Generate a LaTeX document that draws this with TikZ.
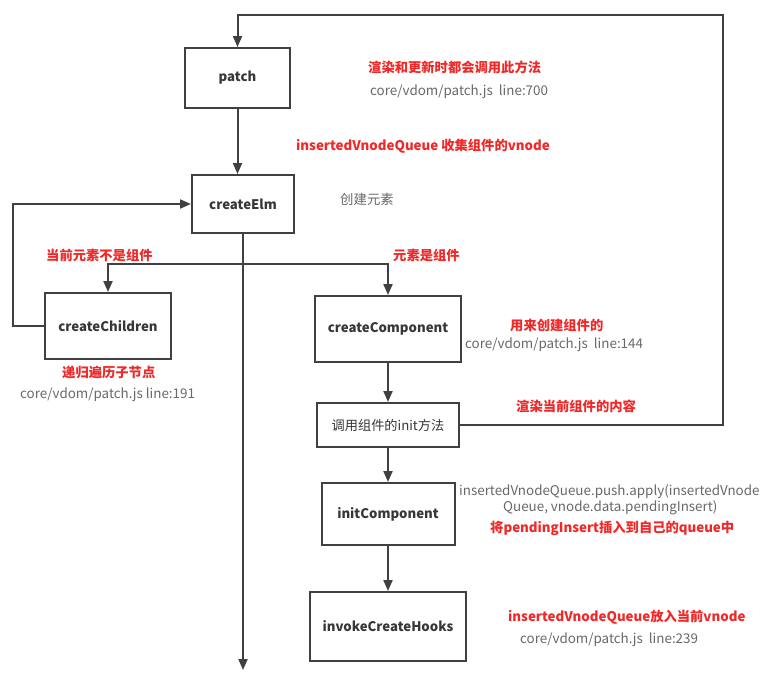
\documentclass[tikz,border=0pt]{standalone}
\usepackage{fontspec}
\setmainfont{Noto Sans CJK SC}
\usetikzlibrary{arrows.meta}
\definecolor{ln}{RGB}{64,64,64}
\definecolor{redt}{RGB}{240,40,40}
\definecolor{grayt}{RGB}{105,105,105}
\definecolor{boxt}{RGB}{55,55,55}
\tikzset{
  box/.style={draw=ln,line width=2pt,fill=white,font=\fontsize{13.2}{15}\selectfont\bfseries,text=boxt,inner sep=0pt},
  arr/.style={draw=ln,line width=2pt,-{Triangle[length=11pt,width=9pt]}},
  rtxt/.style={font=\fontsize{13.3}{15}\selectfont\bfseries,text=redt,anchor=west,inner sep=0pt},
  gtxt/.style={font=\fontsize{13.4}{15}\selectfont,text=grayt,anchor=west,inner sep=0pt},
}
\begin{document}
\begin{tikzpicture}[x=1pt,y=-1pt]
\useasboundingbox[fill=white] (0,0) rectangle (768,673);
% boxes
\node[box,minimum width=105pt,minimum height=60pt] (patch) at (237.5,78) {patch};
\node[box,minimum width=102pt,minimum height=58pt] (ce) at (243,204) {createElm};
\node[box,minimum width=126pt,minimum height=66pt] (cc) at (108,326) {createChildren};
\node[box,minimum width=146pt,minimum height=66pt] (comp) at (388,329) {createComponent};
\node[box,minimum width=142pt,minimum height=44pt,font=\fontsize{13.2}{15}\selectfont\mdseries] (init) at (388,425) {调用组件的init方法};
\node[box,minimum width=133pt,minimum height=62pt] (ic) at (388,514) {initComponent};
\node[box,minimum width=156pt,minimum height=69pt] (ich) at (388,626.5) {invokeCreateHooks};
% coordinates
\coordinate (tr) at (723,15);
\coordinate (br) at (243,264);
\coordinate (bot) at (243,670);
\coordinate (lft) at (13,326);
% connectors
\draw[arr] (init.east) -| (tr) -| (patch.north);
\draw[arr] (patch.south) -- (patch.south |- ce.north);
\draw[arr] (ce.south) -- (bot);
\draw[arr] (br) -| (cc.north);
\draw[arr] (br) -| (comp.north);
\draw[arr] (cc.west) -- (lft) |- (ce.west);
\draw[arr] (comp.south) -- (init.north);
\draw[arr] (init.south) -- (ic.north);
\draw[arr] (ic.south) -- (ich.north);
% texts
\node[rtxt] (t1) at (368,67) {渲染和更新时都会调用此方法};
\node[gtxt] (t2) at (370,92) {core/vdom/patch.js\ \ line:700};
\node[rtxt] (t3) at (296,146) {insertedVnodeQueue 收集组件的vnode};
\node[gtxt] (t4) at (340,199) {创建元素};
\node[rtxt] (t5) at (46,255) {当前元素不是组件};
\node[rtxt] (t6) at (393,255) {元素是组件};
\node[rtxt] (t7) at (62,372) {递归遍历子节点};
\node[gtxt] (t8) at (20,395) {core/vdom/patch.js line:191};
\node[rtxt] (t9) at (510,325) {用来创建组件的};
\node[gtxt] (t10) at (465,345) {core/vdom/patch.js\ \ line:144};
\node[rtxt] (t11) at (516,406) {渲染当前组件的内容};
\node[gtxt] (t12) at (459,492) {insertedVnodeQueue.push.apply(insertedVnode};
\node[gtxt] (t13) at (503,508) {Queue, vnode.data.pendingInsert)};
\node[rtxt] (t14) at (490,528) {将pendingInsert插入到自己的queue中};
\node[rtxt] (t15) at (508,617) {insertedVnodeQueue放入当前vnode};
\node[gtxt] (t16) at (520,640) {core/vdom/patch.js\ \ line:239};
\end{tikzpicture}
\end{document}
